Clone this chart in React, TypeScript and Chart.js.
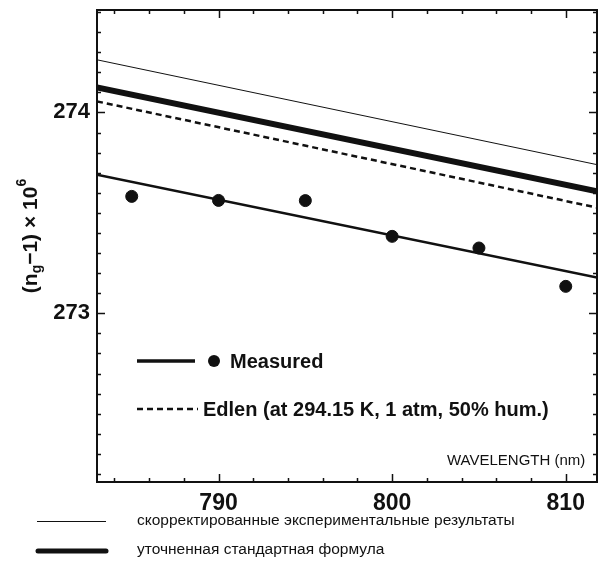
import React, { useEffect, useRef } from "react";
import { Chart, registerables } from "chart.js";

Chart.register(...registerables);

// ---- data ----
const X_MIN = 783;
const X_MAX = 811.8;
const Y_MIN = 272.16;
const Y_MAX = 274.51;

const X_TICK_LABELS = [790, 800, 810];
const Y_TICK_LABELS = [273, 274];
const X_MINOR_STEP = 2;
const Y_MINOR_STEP = 0.1;

const LINE_X = [783, 811.8];
const CORRECTED_Y = [274.262, 273.74];
const FORMULA_Y = [274.124, 273.607];
const EDLEN_Y = [274.055, 273.526];
const FIT_Y = [273.69, 273.178];

const MEASURED_X = [785, 790, 795, 800, 805, 810];
const MEASURED_Y = [273.582, 273.562, 273.561, 273.383, 273.325, 273.134];

const LEGEND_MEASURED = "Measured";
const LEGEND_EDLEN = "Edlen (at 294.15 K, 1 atm, 50% hum.)";
const X_TITLE = "WAVELENGTH (nm)";
const RU_CORRECTED = "скорректированные экспериментальные результаты";
const RU_FORMULA = "уточненная стандартная формула";

const FONT = '"Liberation Sans", Arial, Helvetica, sans-serif';
const INK = "#111";

const toPts = (xs: number[], ys: number[]) => xs.map((x, i) => ({ x, y: ys[i] }));

const zeroPad = (s: any) => {
  s.paddingTop = 0;
  s.paddingBottom = 0;
  s.paddingLeft = 0;
  s.paddingRight = 0;
};

const decorPlugin = {
  id: "decor",
  afterDraw(chart: any) {
    const { ctx, chartArea: a, scales } = chart;
    const xs = scales.x;
    const ys = scales.y;
    ctx.save();
    ctx.strokeStyle = INK;
    ctx.fillStyle = INK;

    // frame
    ctx.lineWidth = 2;
    ctx.strokeRect(a.left, a.top, a.right - a.left, a.bottom - a.top);

    // x ticks (top & bottom, inward)
    ctx.lineWidth = 1.5;
    for (let v = Math.ceil(X_MIN / X_MINOR_STEP) * X_MINOR_STEP; v <= X_MAX + 1e-9; v += X_MINOR_STEP) {
      const px = Math.round(xs.getPixelForValue(v)) + 0.5;
      const major = Math.abs(v % 10) < 1e-6;
      const len = major ? 8 : 4;
      ctx.beginPath();
      ctx.moveTo(px, a.bottom);
      ctx.lineTo(px, a.bottom - len);
      ctx.moveTo(px, a.top);
      ctx.lineTo(px, a.top + len);
      ctx.stroke();
    }
    // y ticks (left & right, inward)
    const startY = Math.ceil(Y_MIN / Y_MINOR_STEP - 1e-6);
    const endY = Math.floor(Y_MAX / Y_MINOR_STEP + 1e-6);
    for (let k = startY; k <= endY; k++) {
      const v = k * Y_MINOR_STEP;
      const py = Math.round(ys.getPixelForValue(v)) + 0.5;
      const major = k % 10 === 0;
      const len = major ? 8 : 4;
      ctx.beginPath();
      ctx.moveTo(a.left, py);
      ctx.lineTo(a.left + len, py);
      ctx.moveTo(a.right, py);
      ctx.lineTo(a.right - len, py);
      ctx.stroke();
    }

    // in-plot legend
    ctx.lineCap = "butt";
    ctx.lineWidth = 3.5;
    ctx.setLineDash([]);
    ctx.beginPath();
    ctx.moveTo(137, 361);
    ctx.lineTo(195, 361);
    ctx.stroke();
    ctx.beginPath();
    ctx.arc(214, 361, 6, 0, Math.PI * 2);
    ctx.fill();
    ctx.font = `bold 20px ${FONT}`;
    ctx.textBaseline = "middle";
    ctx.textAlign = "left";
    ctx.fillText(LEGEND_MEASURED, 230, 362);

    ctx.lineWidth = 2.5;
    ctx.setLineDash([6, 4]);
    ctx.beginPath();
    ctx.moveTo(137, 409);
    ctx.lineTo(198, 409);
    ctx.stroke();
    ctx.setLineDash([]);
    ctx.fillText(LEGEND_EDLEN, 203, 410);

    // x title inside plot
    ctx.font = `15px ${FONT}`;
    ctx.fillText(X_TITLE, 447, 461);

    // y title (rotated) with sub/superscript
    ctx.save();
    ctx.translate(31, 236);
    ctx.rotate(-Math.PI / 2);
    const big = `bold 21px ${FONT}`;
    const small = `bold 14px ${FONT}`;
    const parts: [string, string, number][] = [
      ["(n", big, 0],
      ["g", small, 6],
      ["\u22121) \u00d7 10", big, 0],
      ["6", small, -9],
    ];
    let total = 0;
    for (const [t, f] of parts) {
      ctx.font = f;
      total += ctx.measureText(t).width;
    }
    let cx = -total / 2;
    for (const [t, f, dy] of parts) {
      ctx.font = f;
      ctx.fillText(t, cx, dy);
      cx += ctx.measureText(t).width;
    }
    ctx.restore();

    // bottom legend
    ctx.lineWidth = 1;
    ctx.beginPath();
    ctx.moveTo(37, 521.5);
    ctx.lineTo(106, 521.5);
    ctx.stroke();
    ctx.lineWidth = 5;
    ctx.lineCap = "round";
    ctx.beginPath();
    ctx.moveTo(38, 551);
    ctx.lineTo(106, 551);
    ctx.stroke();
    ctx.font = `15.5px ${FONT}`;
    ctx.fillText(RU_CORRECTED, 137, 521);
    ctx.fillText(RU_FORMULA, 137, 550);

    ctx.restore();
  },
};

export default function App() {
  const ref = useRef<HTMLCanvasElement | null>(null);

  useEffect(() => {
    if (!ref.current) return;
    const chart = new Chart(ref.current, {
      type: "scatter",
      data: {
        datasets: [
          {
            label: "corrected",
            data: toPts(LINE_X, CORRECTED_Y),
            showLine: true,
            borderColor: INK,
            borderWidth: 1,
            pointRadius: 0,
          },
          {
            label: "formula",
            data: toPts(LINE_X, FORMULA_Y),
            showLine: true,
            borderColor: INK,
            borderWidth: 6,
            pointRadius: 0,
          },
          {
            label: "edlen",
            data: toPts(LINE_X, EDLEN_Y),
            showLine: true,
            borderColor: INK,
            borderWidth: 2.5,
            borderDash: [6, 4],
            pointRadius: 0,
          },
          {
            label: "fit",
            data: toPts(LINE_X, FIT_Y),
            showLine: true,
            borderColor: INK,
            borderWidth: 2.5,
            pointRadius: 0,
          },
          {
            label: "measured",
            data: toPts(MEASURED_X, MEASURED_Y),
            showLine: false,
            backgroundColor: INK,
            borderColor: INK,
            pointRadius: 6,
            pointStyle: "circle",
          },
        ],
      },
      options: {
        animation: false,
        responsive: false,
        maintainAspectRatio: false,
        layout: { autoPadding: false, padding: { top: 10, right: 1, left: 0, bottom: 0 } },
        plugins: { legend: { display: false }, tooltip: { enabled: false } },
        scales: {
          x: {
            type: "linear",
            min: X_MIN,
            max: X_MAX,
            grid: { display: false, drawTicks: false },
            border: { display: false },
            afterBuildTicks: (s: any) => {
              s.ticks = X_TICK_LABELS.map((v) => ({ value: v }));
            },
            afterFit: (s: any) => {
              s.height = 80;
              zeroPad(s);
            },
            ticks: {
              autoSkip: false,
              maxRotation: 0,
              padding: 8,
              color: INK,
              font: { family: FONT, size: 23, weight: "bold" },
              callback: (v: any) => String(v),
            },
          },
          y: {
            type: "linear",
            min: Y_MIN,
            max: Y_MAX,
            grid: { display: false, drawTicks: false },
            border: { display: false },
            afterBuildTicks: (s: any) => {
              s.ticks = Y_TICK_LABELS.map((v) => ({ value: v }));
            },
            afterFit: (s: any) => {
              s.width = 97;
              zeroPad(s);
            },
            ticks: {
              autoSkip: false,
              padding: 7,
              color: INK,
              font: { family: FONT, size: 22, weight: "bold" },
              callback: (v: any) => String(v),
            },
          },
        },
      },
      plugins: [decorPlugin],
    });
    return () => chart.destroy();
  }, []);

  return (
    <div style={{ position: "fixed", left: 0, top: 0, width: 598, height: 562, background: "#fff" }}>
      <canvas ref={ref} width={598} height={562} style={{ display: "block", width: 598, height: 562 }} />
    </div>
  );
}
